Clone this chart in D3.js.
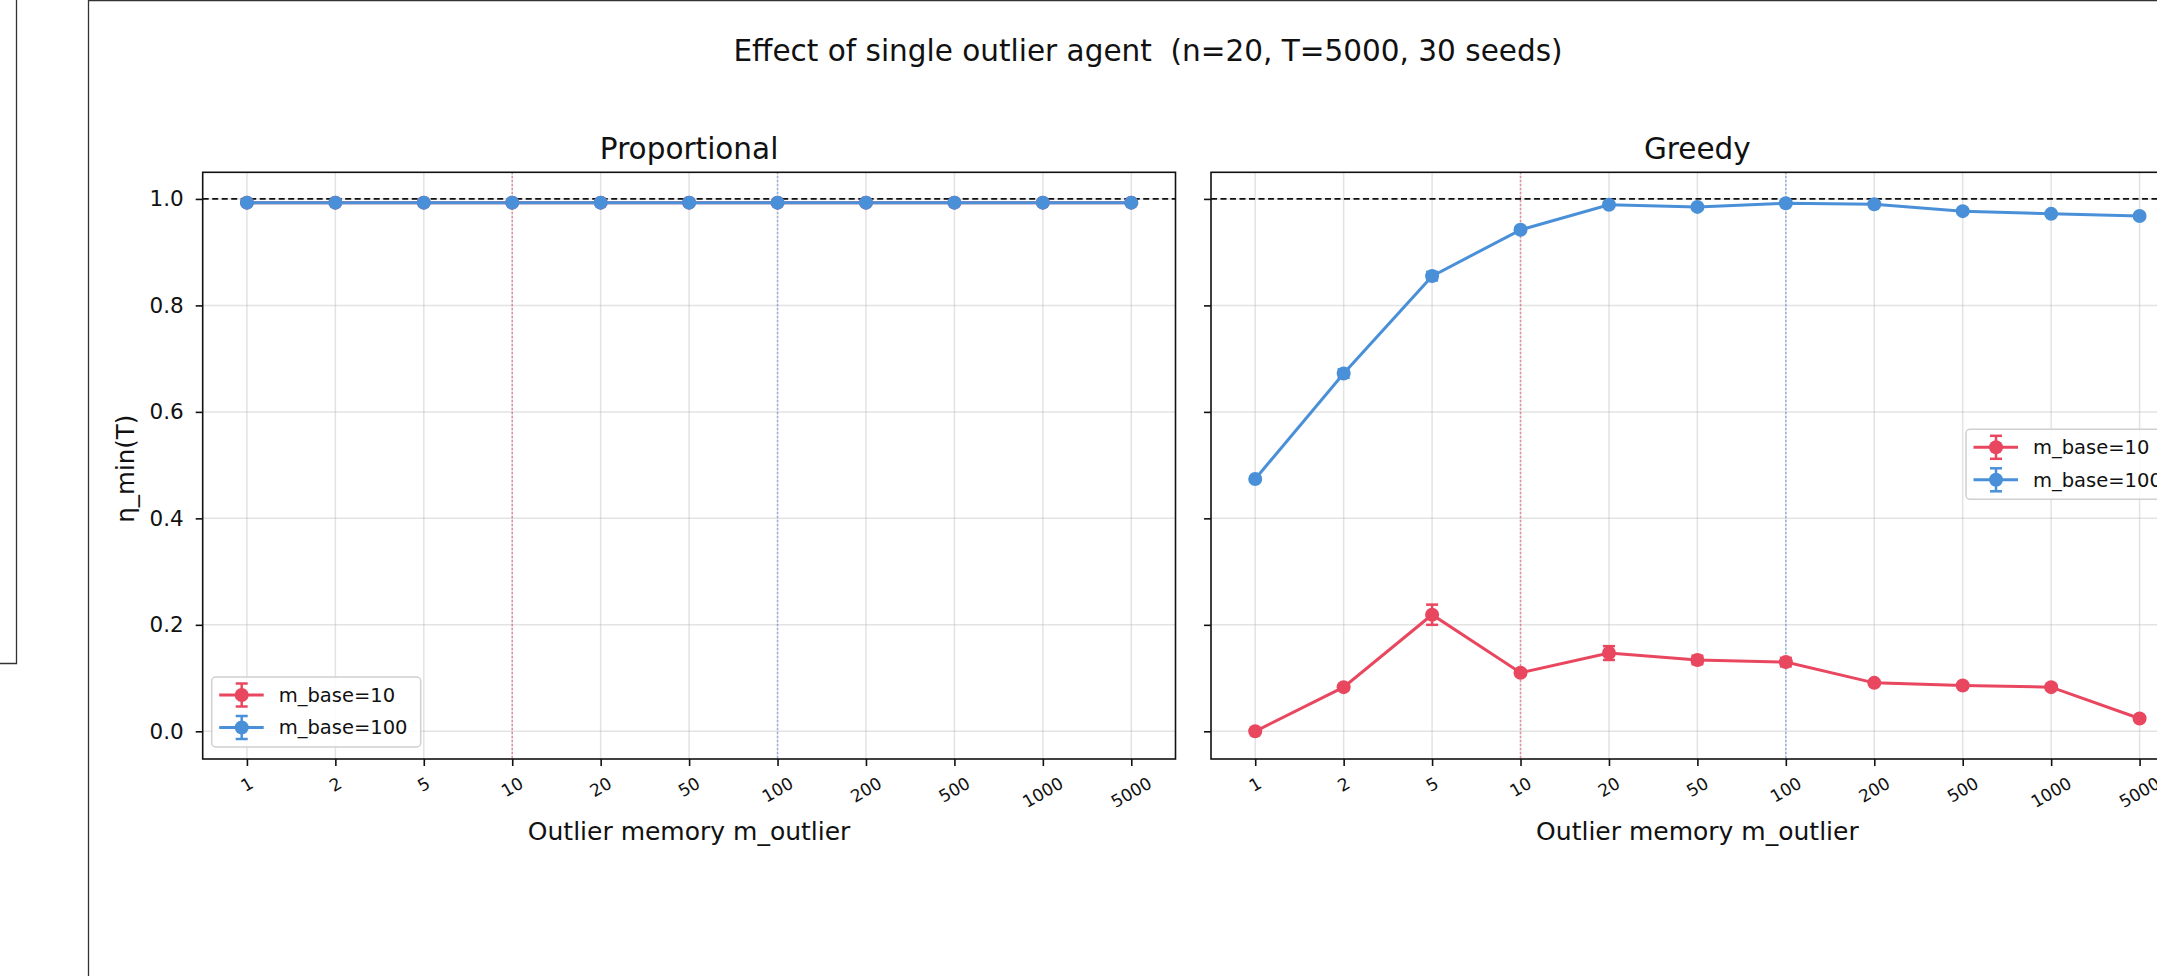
<!DOCTYPE html>
<html>
<head>
<meta charset="utf-8">
<script src="https://cdn.jsdelivr.net/npm/d3@7"></script>
<style>
  body { margin: 0; background: #fff; }
  svg { display: block; font-family: "DejaVu Sans", sans-serif; }
</style>
</head>
<body>
<div id="chart"></div>
<script>
// Catégories de mémoire de l'agent atypique
const categories = ["1", "2", "5", "10", "20", "50", "100", "200", "500", "1000", "5000"];

// Proportional
const propBase10 = [0.993, 0.993, 0.993, 0.993, 0.993, 0.993, 0.993, 0.993, 0.993, 0.993, 0.993];
const propBase10Err = [0.002, 0.002, 0.002, 0.002, 0.002, 0.002, 0.002, 0.002, 0.002, 0.002, 0.002];
const propBase100 = [0.993, 0.993, 0.993, 0.993, 0.993, 0.993, 0.993, 0.993, 0.993, 0.993, 0.993];
const propBase100Err = [0.002, 0.002, 0.002, 0.002, 0.002, 0.002, 0.002, 0.002, 0.002, 0.002, 0.002];

// Greedy
const greedyBase10 = [0.000, 0.083, 0.219, 0.110, 0.147, 0.134, 0.130, 0.091, 0.086, 0.083, 0.024];
const greedyBase10Err = [0.002, 0.004, 0.019, 0.005, 0.013, 0.008, 0.008, 0.004, 0.004, 0.004, 0.004];
const greedyBase100 = [0.474, 0.672, 0.855, 0.942, 0.989, 0.985, 0.992, 0.990, 0.977, 0.972, 0.968];
const greedyBase100Err = [0.003, 0.008, 0.008, 0.004, 0.003, 0.003, 0.003, 0.003, 0.003, 0.003, 0.003];

const yTicks = [0.0, 0.2, 0.4, 0.6, 0.8, 1.0];
const seriesNames = ["m_base=10", "m_base=100"];
const baseMemories = ["10", "100"];

const red = "#e8475f";
const blue = "#4a90d9";
const colors = [red, blue];

const width = 2157, height = 976;
const svg = d3.select("#chart").append("svg")
    .attr("width", width)
    .attr("height", height);

svg.append("rect").attr("width", width).attr("height", height).attr("fill", "#fff");

// Cadres de la page autour de la figure
svg.append("path").attr("d", "M16.5,0 V663.5 H0").attr("fill", "none").attr("stroke", "#333").attr("stroke-width", 1.3);
svg.append("path").attr("d", `M88.5,${height} V0.5 H${width}`).attr("fill", "none").attr("stroke", "#333").attr("stroke-width", 1.3);

// Titre général (double espace conservé)
svg.append("text")
    .attr("x", 1148).attr("y", 61)
    .attr("text-anchor", "middle")
    .attr("font-size", 29.5)
    .attr("fill", "#111")
    .style("white-space", "pre")
    .text("Effect of single outlier agent  (n=20, T=5000, 30 seeds)");

const plotW = 972.8, plotH = 586.7, plotTop = 172.3;

const x = d3.scalePoint().domain(categories).range([0, plotW]).padding(0.5);
const y = d3.scaleLinear().domain([-0.052, 1.05]).range([plotH, 0]);

const panels = [
    { title: "Proportional", left: 202.7, series: [[propBase10, propBase10Err], [propBase100, propBase100Err]], legend: { x: 211.7 - 202.7, y: 677 - plotTop }, ylabels: true },
    { title: "Greedy", left: 1211, series: [[greedyBase10, greedyBase10Err], [greedyBase100, greedyBase100Err]], legend: { x: 1966 - 1211, y: 429.3 - plotTop }, ylabels: false }
];

panels.forEach(p => {
    const g = svg.append("g").attr("transform", `translate(${p.left},${plotTop})`);

    // Grille
    g.append("g").selectAll("line").data(categories).enter().append("line")
        .attr("x1", d => x(d)).attr("x2", d => x(d))
        .attr("y1", 0).attr("y2", plotH)
        .attr("stroke", "#b0b0b0").attr("stroke-opacity", 0.35).attr("stroke-width", 1.5);
    g.append("g").selectAll("line").data(yTicks).enter().append("line")
        .attr("x1", 0).attr("x2", plotW)
        .attr("y1", d => y(d)).attr("y2", d => y(d))
        .attr("stroke", "#b0b0b0").attr("stroke-opacity", 0.35).attr("stroke-width", 1.5);

    // Lignes verticales des mémoires de base
    baseMemories.forEach((m, i) => {
        g.append("line")
            .attr("x1", x(m)).attr("x2", x(m))
            .attr("y1", 0).attr("y2", plotH)
            .attr("stroke", colors[i]).attr("stroke-opacity", 0.75)
            .attr("stroke-width", 1.5).attr("stroke-dasharray", "1.5,2.5");
    });

    // Ligne de référence à 1.0
    g.append("line")
        .attr("x1", 0).attr("x2", plotW)
        .attr("y1", y(1)).attr("y2", y(1))
        .attr("stroke", "#111").attr("stroke-width", 1.6).attr("stroke-dasharray", "6,3.5");

    // Séries avec barres d'erreur
    p.series.forEach(([vals, errs], i) => {
        const pts = categories.map((c, k) => ({ c, v: vals[k], e: errs[k] }));
        const sg = g.append("g");
        sg.append("path")
            .attr("d", d3.line().x(d => x(d.c)).y(d => y(d.v))(pts))
            .attr("fill", "none").attr("stroke", colors[i]).attr("stroke-width", 3);
        const eb = sg.append("g").selectAll("g").data(pts).enter().append("g")
            .attr("stroke", colors[i]).attr("stroke-width", 2.5);
        eb.append("line")
            .attr("x1", d => x(d.c)).attr("x2", d => x(d.c))
            .attr("y1", d => y(d.v - d.e)).attr("y2", d => y(d.v + d.e));
        eb.append("line")
            .attr("x1", d => x(d.c) - 6).attr("x2", d => x(d.c) + 6)
            .attr("y1", d => y(d.v - d.e)).attr("y2", d => y(d.v - d.e));
        eb.append("line")
            .attr("x1", d => x(d.c) - 6).attr("x2", d => x(d.c) + 6)
            .attr("y1", d => y(d.v + d.e)).attr("y2", d => y(d.v + d.e));
        sg.append("g").selectAll("circle").data(pts).enter().append("circle")
            .attr("cx", d => x(d.c)).attr("cy", d => y(d.v)).attr("r", 7)
            .attr("fill", colors[i]);
    });

    // Cadre des axes
    g.append("rect").attr("width", plotW).attr("height", plotH)
        .attr("fill", "none").attr("stroke", "#111").attr("stroke-width", 1.6);

    // Axe Y
    const yAxis = g.append("g")
        .call(d3.axisLeft(y).tickValues(yTicks).tickSize(7).tickPadding(12)
            .tickFormat(p.ylabels ? d3.format(".1f") : () => ""));
    yAxis.select(".domain").remove();
    yAxis.selectAll(".tick line").attr("stroke", "#111").attr("stroke-width", 1.6);
    yAxis.selectAll(".tick text").attr("font-size", 21.5).attr("fill", "#111").attr("font-family", "DejaVu Sans");

    // Axe X
    const xAxis = g.append("g").attr("transform", `translate(0,${plotH})`)
        .call(d3.axisBottom(x).tickSize(7).tickFormat(""));
    xAxis.select(".domain").remove();
    xAxis.selectAll(".tick line").attr("stroke", "#111").attr("stroke-width", 1.6);

    // Étiquettes X inclinées à 30°
    const fs = 17;
    g.append("g").selectAll("text").data(categories).enter().append("text")
        .attr("font-size", fs).attr("fill", "#111")
        .attr("text-anchor", "middle").attr("dominant-baseline", "central")
        .text(d => d)
        .each(function(d) {
            const w = this.getComputedTextLength();
            const h = w * 0.5 + fs * 1.16 * 0.866;
            d3.select(this).attr("transform", `translate(${x(d)},${plotH + 14 + h / 2}) rotate(-30)`);
        });

    // Titres et libellés
    g.append("text").attr("x", plotW / 2).attr("y", 159 - plotTop)
        .attr("text-anchor", "middle").attr("font-size", 29.5).attr("fill", "#111")
        .text(p.title);
    g.append("text").attr("x", plotW / 2).attr("y", 840 - plotTop)
        .attr("text-anchor", "middle").attr("font-size", 25).attr("fill", "#111")
        .text("Outlier memory m_outlier");
    if (p.ylabels) {
        g.append("text")
            .attr("transform", `translate(${134 - p.left},${plotH / 2 + 3}) rotate(-90)`)
            .attr("text-anchor", "middle").attr("font-size", 24.5).attr("fill", "#111")
            .text("η_min(T)");
    }

    // Légende
    const lg = g.append("g").attr("transform", `translate(${p.legend.x},${p.legend.y})`);
    lg.append("rect").attr("width", 209).attr("height", 70).attr("rx", 4)
        .attr("fill", "#fff").attr("fill-opacity", 0.85)
        .attr("stroke", "#d0d0d0").attr("stroke-width", 1.5);
    seriesNames.forEach((name, i) => {
        const ry = 18 + i * 32.5;
        const item = lg.append("g").attr("transform", `translate(0,${ry})`);
        item.append("line").attr("x1", 7.5).attr("x2", 52).attr("y1", 0).attr("y2", 0)
            .attr("stroke", colors[i]).attr("stroke-width", 3);
        item.append("line").attr("x1", 30).attr("x2", 30).attr("y1", -11.5).attr("y2", 11.5)
            .attr("stroke", colors[i]).attr("stroke-width", 2.5);
        [-11.5, 11.5].forEach(cy => item.append("line")
            .attr("x1", 24).attr("x2", 36).attr("y1", cy).attr("y2", cy)
            .attr("stroke", colors[i]).attr("stroke-width", 2.5));
        item.append("circle").attr("cx", 30).attr("cy", 0).attr("r", 7).attr("fill", colors[i]);
        item.append("text").attr("x", 67).attr("y", 0).attr("dy", "0.35em")
            .attr("font-size", 19.5).attr("fill", "#111").text(name);
    });
});
</script>
</body>
</html>
